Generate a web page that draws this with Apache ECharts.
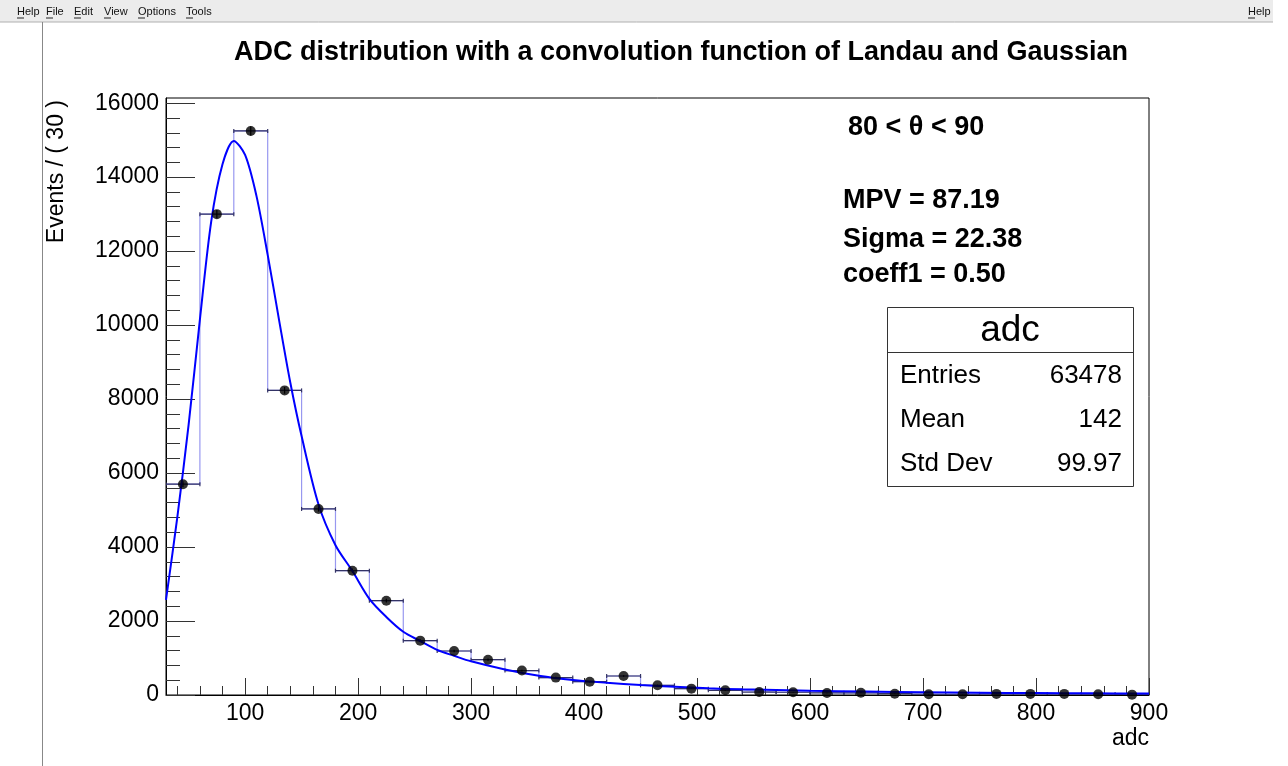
<!DOCTYPE html>
<html><head><meta charset="utf-8">
<script src="https://cdn.jsdelivr.net/npm/echarts@6/dist/echarts.min.js"></script>
<style>html,body{margin:0;padding:0;background:#fff}#c{width:1288px;height:766px}</style>
</head><body><div id="c"></div>
<script>
// ---- data ----
const binWidth = 30;
const binLow = [30,60,90,120,150,180,210,240,270,300,330,360,390,420,450,480,510,540,570,600,630,660,690,720,750,780,810,840,870];
const counts = [5700,13000,15250,8235,5030,3360,2550,1470,1190,955,660,470,360,513,262,172,127,80,75,55,60,35,20,20,30,30,30,20,10];
const fitX = [30,40,50,60,70,80,90,100,110,120,130,140,150,165,180,195,210,225,240,255,270,285,300,330,360,390,420,450,480,510,540,600,650,700,750,800,850,900];
const fitY = [2570,4800,7300,10150,12800,14350,14980,14600,13500,11900,10150,8450,7000,5150,4050,3350,2600,2110,1710,1460,1220,1060,910,690,520,405,330,270,225,180,153,115,92,75,62,52,45,40];
const xTickLabels = [100,200,300,400,500,600,700,800,900];
const yTickLabels = [0,2000,4000,6000,8000,10000,12000,14000,16000];
const yMax = 16140;
const statsRows = [['Entries','63478'],['Mean','142'],['Std Dev','99.97']];
const notes = ['MPV = 87.19','Sigma = 22.38','coeff1 = 0.50'];

const xMinor = []; for (let v = 40; v < 900; v += 20) if (v % 100) xMinor.push(v);
const yMinor = []; for (let v = 400; v < 16140; v += 400) if (v % 2000) yMinor.push(v);

const stepData = binLow.map((lo, i) => [lo, counts[i]]);
stepData.push([binLow[binLow.length-1] + binWidth, counts[counts.length-1]]);
const pointData = binLow.map((lo, i) => [lo + binWidth/2, counts[i], Math.sqrt(counts[i])]);
const fitData = fitX.map((x, i) => [x, fitY[i]]);

const FF = 'Liberation Sans, Arial, Helvetica, sans-serif';
const chart = echarts.init(document.getElementById('c'), null, {renderer:'canvas'});

const menuItems = [['Help',17],['File',46],['Edit',74],['View',104],['Options',138],['Tools',186]];
const graphics = [
  {type:'rect', shape:{x:0,y:0,width:1273,height:22}, style:{fill:'#ececec'}},
  {type:'line', shape:{x1:0,y1:22,x2:1273,y2:22}, style:{stroke:'#b0b0b0',lineWidth:1}},
  {type:'line', shape:{x1:42.5,y1:22,x2:42.5,y2:766}, style:{stroke:'#888',lineWidth:1}},
  {type:'text', x:1248, y:12, style:{text:'Help', font:'11px '+FF, fill:'#111', verticalAlign:'middle'}},
  {type:'line', shape:{x1:1248,y1:18,x2:1255,y2:18}, style:{stroke:'#222',lineWidth:1}},
  // axis titles
  {type:'text', x:57, y:100, rotation:Math.PI/2, style:{text:'Events / ( 30 )', font:'23px '+FF, fill:'#000', align:'right', verticalAlign:'middle'}},
  {type:'text', x:1149, y:739, style:{text:'adc', font:'23px '+FF, fill:'#000', align:'right', verticalAlign:'middle'}},
  // annotations
  {type:'text', x:848, y:128, style:{text:'80 < \u03b8 < 90', font:'bold 27px '+FF, fill:'#000', verticalAlign:'middle'}},
  // stats box
  {type:'rect', shape:{x:887.5,y:307.5,width:246,height:179}, style:{fill:'#fff',stroke:'#333',lineWidth:1}},
  {type:'line', shape:{x1:887.5,y1:352.5,x2:1133.5,y2:352.5}, style:{stroke:'#333',lineWidth:1}},
  {type:'text', x:1010, y:331, style:{text:'adc', font:'37px '+FF, fill:'#000', align:'center', verticalAlign:'middle'}}
];
menuItems.forEach(([t,x]) => {
  graphics.push({type:'text', x:x, y:12, style:{text:t, font:'11px '+FF, fill:'#111', verticalAlign:'middle'}});
  graphics.push({type:'line', shape:{x1:x,y1:18,x2:x+7,y2:18}, style:{stroke:'#222',lineWidth:1}});
});
notes.forEach((t,i) => {
  graphics.push({type:'text', x:843, y:[201,240,275][i], style:{text:t, font:'bold 27px '+FF, fill:'#000', verticalAlign:'middle'}});
});
statsRows.forEach(([k,v],i) => {
  const y = [376,420,464][i];
  graphics.push({type:'text', x:900, y:y, style:{text:k, font:'26px '+FF, fill:'#000', verticalAlign:'middle'}});
  graphics.push({type:'text', x:1122, y:y, style:{text:v, font:'26px '+FF, fill:'#000', align:'right', verticalAlign:'middle'}});
});

const plain = v => String(v);
const axisCommon = { type:'value', splitLine:{show:false} };
const option = {
  animation:false,
  backgroundColor:'#fff',
  title:{text:'ADC distribution with a convolution function of Landau and Gaussian', left:229, top:34,
    textStyle:{fontFamily:FF, fontSize:27, fontWeight:'bold', color:'#000'}},
  grid:{left:166, right:139, top:98, bottom:71, show:true, borderColor:'#000', borderWidth:1, backgroundColor:'transparent'},
  xAxis:[
    Object.assign({}, axisCommon, {min:30, max:900, position:'bottom',
      axisLine:{show:true, lineStyle:{color:'#000', width:1}},
      axisTick:{show:true, inside:true, length:17, customValues:xTickLabels, lineStyle:{color:'#333'}},
      axisLabel:{show:true, customValues:xTickLabels, formatter:plain, fontFamily:FF, fontSize:23, color:'#000', margin:7}}),
    Object.assign({}, axisCommon, {min:30, max:900, position:'bottom',
      axisLine:{show:false},
      axisTick:{show:true, inside:true, length:9, customValues:xMinor, lineStyle:{color:'#333'}},
      axisLabel:{show:false}})
  ],
  yAxis:[
    Object.assign({}, axisCommon, {min:0, max:yMax, position:'left',
      axisLine:{show:true, lineStyle:{color:'#000', width:1}},
      axisTick:{show:true, inside:true, length:29, customValues:yTickLabels, lineStyle:{color:'#333'}},
      axisLabel:{show:true, customValues:yTickLabels, formatter:plain, fontFamily:FF, fontSize:23, color:'#000', margin:7}}),
    Object.assign({}, axisCommon, {min:0, max:yMax, position:'left',
      axisLine:{show:false},
      axisTick:{show:true, inside:true, length:14, customValues:yMinor, lineStyle:{color:'#333'}},
      axisLabel:{show:false}})
  ],
  graphic:graphics,
  series:[
    {type:'line', name:'hist', data:stepData, step:'end', showSymbol:false, symbol:'none',
      lineStyle:{color:'rgba(50,50,225,0.5)', width:1.2}, z:2, silent:true},
    {type:'custom', name:'err', data:pointData, z:3, clip:true, silent:true,
      renderItem:function(params, api){
        const xc = api.value(0), v = api.value(1), e = api.value(2);
        const hw = binWidth/2;
        const pL = api.coord([xc-hw, v]), pR = api.coord([xc+hw, v]);
        const pT = api.coord([xc, v+e]), pB = api.coord([xc, v-e]);
        const st = {stroke:'#333366', lineWidth:1.2};
        return {type:'group', children:[
          {type:'line', shape:{x1:pL[0],y1:pL[1],x2:pR[0],y2:pR[1]}, style:st},
          {type:'line', shape:{x1:pL[0],y1:pL[1]-2,x2:pL[0],y2:pL[1]+2}, style:st},
          {type:'line', shape:{x1:pR[0],y1:pR[1]-2,x2:pR[0],y2:pR[1]+2}, style:st},
          {type:'line', shape:{x1:pT[0],y1:pT[1],x2:pB[0],y2:pB[1]}, style:{stroke:'#000',lineWidth:1.2}}
        ]};
      }},
    {type:'line', name:'fit', data:fitData, smooth:0.3, showSymbol:false, symbol:'none',
      lineStyle:{color:'#0000ff', width:2}, z:4, silent:true},
    {type:'scatter', name:'data', data:pointData.map(p => [p[0], p[1]]), symbol:'circle', symbolSize:10,
      itemStyle:{color:'#000'}, z:5, silent:true}
  ]
};
chart.setOption(option);
</script></body></html>
